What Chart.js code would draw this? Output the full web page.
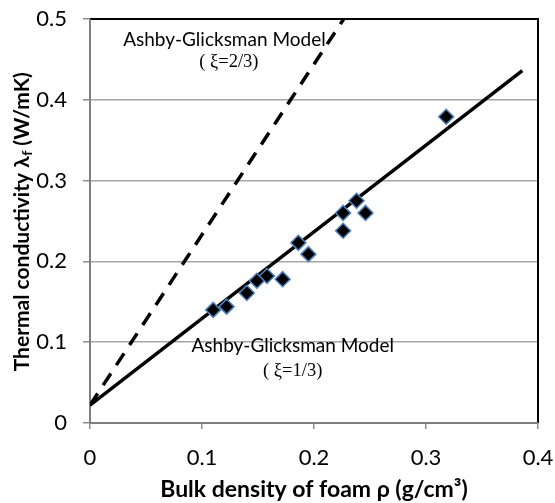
<!DOCTYPE html>
<html>
<head>
<meta charset="utf-8">
<script src="https://cdn.jsdelivr.net/npm/chart.js@4/dist/chart.umd.min.js"></script>
<style>
html,body{margin:0;padding:0;background:#fff;}
canvas{display:block;}
</style>
</head>
<body>
<canvas id="c" width="555" height="503"></canvas>
<script>
// ---- data ----
const densityValues = [0.110, 0.122, 0.140, 0.149, 0.158, 0.172, 0.186, 0.195, 0.226, 0.226, 0.238, 0.246, 0.318];
const conductivityValues = [0.140, 0.144, 0.161, 0.176, 0.182, 0.178, 0.223, 0.209, 0.260, 0.238, 0.275, 0.260, 0.379];
const modelThirdX = [0, 0.386];
const modelThirdY = [0.022, 0.436];
const modelTwoThirdsX = [0, 0.2265];
const modelTwoThirdsY = [0.022, 0.5];
const xTickValues = [0, 0.1, 0.2, 0.3, 0.4];
const yTickValues = [0, 0.1, 0.2, 0.3, 0.4, 0.5];
const xTitle = 'Bulk density of foam ρ (g/cm³)';
const yTitleMain = 'Thermal conductivity λ';
const yTitleSub = 'f';
const yTitleEnd = ' (W/mK)';
const annotations = [
  {text: 'Ashby-Glicksman Model', x: 0.12, y: 0.474, serif: false},
  {text: '( ξ=2/3)', x: 0.124, y: 0.447, serif: true},
  {text: 'Ashby-Glicksman Model', x: 0.181, y: 0.095, serif: false},
  {text: '( ξ=1/3)', x: 0.181, y: 0.064, serif: true}
];

const toXY = (xs, ys) => xs.map((x, i) => ({x: x, y: ys[i]}));
const SANS = 'Lato, "Open Sans", sans-serif';

const framePlugin = {
  id: 'frame',
  beforeDatasetsDraw(chart) {
    const {ctx, chartArea: a} = chart;
    ctx.save();
    ctx.lineWidth = 2;
    ctx.strokeStyle = '#000';
    ctx.beginPath();
    ctx.moveTo(a.left, a.top); ctx.lineTo(a.right, a.top); ctx.lineTo(a.right, a.bottom);
    ctx.stroke();
    ctx.strokeStyle = '#7f7f7f';
    ctx.beginPath();
    ctx.moveTo(a.left, a.top); ctx.lineTo(a.left, a.bottom); ctx.lineTo(a.right, a.bottom);
    ctx.stroke();
    ctx.restore();
  },
  afterDraw(chart) {
    const {ctx, scales} = chart;
    ctx.save();
    ctx.fillStyle = '#000';
    ctx.textAlign = 'center';
    ctx.textBaseline = 'middle';
    annotations.forEach(a => {
      ctx.font = a.serif ? '18.5px "Liberation Serif", serif' : '19px ' + SANS;
      ctx.fillText(a.text, scales.x.getPixelForValue(a.x), scales.y.getPixelForValue(a.y));
    });
    // y axis title with subscript
    const big = 'bold 21px ' + SANS;
    const small = 'bold 14px ' + SANS;
    ctx.font = big; const w1 = ctx.measureText(yTitleMain).width; const w3 = ctx.measureText(yTitleEnd).width;
    ctx.font = small; const w2 = ctx.measureText(yTitleSub).width;
    const total = w1 + w2 + w3;
    ctx.translate(22, 222);
    ctx.rotate(-Math.PI / 2);
    ctx.textAlign = 'left';
    let x0 = -total / 2;
    ctx.font = big; ctx.fillText(yTitleMain, x0, 0);
    ctx.font = small; ctx.fillText(yTitleSub, x0 + w1 + 0.5, 5);
    ctx.font = big; ctx.fillText(yTitleEnd, x0 + w1 + w2 + 0.5, 0);
    ctx.restore();
  }
};

const fmt = v => (Math.abs(v) < 1e-9 ? '0' : v.toFixed(1));

new Chart(document.getElementById('c'), {
  type: 'scatter',
  data: {
    datasets: [
      {
        data: toXY(densityValues, conductivityValues),
        pointStyle: 'rectRot', pointRadius: 7.5, pointHoverRadius: 7.5,
        backgroundColor: '#000', borderColor: '#4f81bd', borderWidth: 1.5
      },
      {
        data: toXY(modelThirdX, modelThirdY), showLine: true,
        borderColor: '#000', borderWidth: 3.5, pointRadius: 0, fill: false
      },
      {
        data: toXY(modelTwoThirdsX, modelTwoThirdsY), showLine: true,
        borderColor: '#000', borderWidth: 3.5, borderDash: [14, 10], pointRadius: 0, fill: false
      }
    ]
  },
  options: {
    responsive: false, animation: false, devicePixelRatio: 1,
    layout: {padding: {top: 19, right: 17, left: 0, bottom: 0}},
    plugins: {legend: {display: false}, tooltip: {enabled: false}},
    scales: {
      x: {
        type: 'linear', min: 0, max: 0.4,
        afterFit: s => { s.height = 80; s.paddingLeft = 0; s.paddingRight = 0; },
        afterBuildTicks: s => { s.ticks = xTickValues.map(v => ({value: v})); },
        ticks: {callback: fmt, font: {family: SANS, size: 22}, color: '#000', padding: 16, maxRotation: 0},
        grid: {drawOnChartArea: false, drawTicks: true, tickLength: 6, color: '#8c8c8c', lineWidth: 1.5},
        border: {display: false},
        title: {display: true, text: xTitle, font: {family: SANS, size: 23, weight: 'bold'}, color: '#000', padding: {top: 0, bottom: 0}}
      },
      y: {
        type: 'linear', min: 0, max: 0.5,
        afterFit: s => { s.width = 90; s.paddingTop = 0; s.paddingBottom = 0; },
        afterBuildTicks: s => { s.ticks = yTickValues.map(v => ({value: v})); },
        ticks: {callback: fmt, font: {family: SANS, size: 22}, color: '#000', padding: 16},
        grid: {color: '#a6a6a6', lineWidth: 1.5, tickLength: 7, tickColor: '#8c8c8c'},
        border: {display: false}
      }
    }
  },
  plugins: [framePlugin]
});
</script>
</body>
</html>
